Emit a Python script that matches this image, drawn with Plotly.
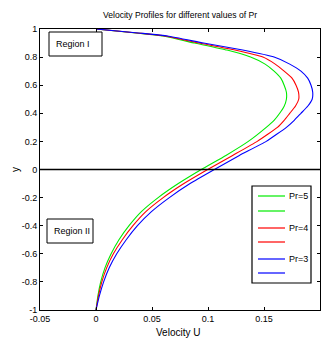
import plotly.graph_objects as go

# ---- data ----
y_vals = [1.0, 0.97, 0.95, 0.9, 0.85, 0.8, 0.75, 0.7, 0.65, 0.6, 0.55, 0.5, 0.45, 0.4, 0.35, 0.3, 0.2, 0.1, 0.0,
          -0.1, -0.2, -0.3, -0.4, -0.5, -0.6, -0.7, -0.8, -0.9, -1.0]
u_pr5 = [0.0, 0.038, 0.060, 0.088, 0.117, 0.138, 0.151, 0.159, 0.165, 0.168, 0.1700, 0.170, 0.168, 0.164, 0.159,
         0.152, 0.136, 0.116, 0.094,
         0.0735, 0.0555, 0.0405, 0.0295, 0.0205, 0.0135, 0.0080, 0.0042, 0.0017, 0.0]
u_pr4 = [0.0, 0.039, 0.062, 0.092, 0.124, 0.149, 0.160, 0.168, 0.175, 0.1786, 0.1808, 0.181, 0.178, 0.173, 0.168,
         0.162, 0.144, 0.122, 0.0997,
         0.0785, 0.0600, 0.0445, 0.0330, 0.0235, 0.0155, 0.0095, 0.0052, 0.0022, 0.0]
u_pr3 = [0.0, 0.040, 0.064, 0.096, 0.131, 0.159, 0.173, 0.183, 0.189, 0.192, 0.1935, 0.1930, 0.189, 0.183, 0.177,
         0.170, 0.152, 0.128, 0.1057,
         0.0840, 0.0655, 0.0495, 0.0370, 0.0270, 0.0185, 0.0118, 0.0068, 0.0030, 0.0]
series_names = ["Pr=5", "Pr=4", "Pr=3"]
series_colors = ["rgb(0,235,0)", "rgb(255,0,0)", "rgb(0,0,255)"]
x_ticks = [-0.05, 0, 0.05, 0.1, 0.15, 0.2]
x_tick_labels = ["-0.05", "0", "0.05", "0.1", "0.15", "0.2"]
y_ticks = [-1, -0.8, -0.6, -0.4, -0.2, 0, 0.2, 0.4, 0.6, 0.8, 1]
y_tick_labels = ["-1", "-0.8", "-0.6", "-0.4", "-0.2", "0", "0.2", "0.4", "0.6", "0.8", "1"]

W, H = 322, 343
L, R, T, B = 40, 2, 29, 33
PW, PH = W - L - R, H - T - B

def px(xp):
    return (xp - L) / PW

def py(yp):
    return (H - B - yp) / PH

FONT = "Liberation Sans, Arial, sans-serif"

fig = go.Figure()
for u, name, col in zip([u_pr5, u_pr4, u_pr3], series_names, series_colors):
    fig.add_trace(go.Scatter(x=u, y=y_vals, mode="lines", name=name,
                             line=dict(color=col, width=1.1, shape="spline", smoothing=0.4),
                             showlegend=False))

shapes = []
annotations = []
# zero line across the axes
shapes.append(dict(type="line", xref="paper", yref="y", x0=0, x1=1, y0=0, y1=0,
                   line=dict(color="black", width=1.3)))
# Region boxes
shapes.append(dict(type="rect", xref="paper", yref="paper",
                   x0=px(49), x1=px(102), y0=py(56), y1=py(32),
                   line=dict(color="black", width=1), fillcolor="white"))
annotations.append(dict(xref="paper", yref="paper", x=px(54), y=py(44), text="Region I",
                        showarrow=False, xanchor="left", yanchor="middle",
                        font=dict(family=FONT, size=9, color="black")))
shapes.append(dict(type="rect", xref="paper", yref="paper",
                   x0=px(47), x1=px(93), y0=py(243), y1=py(219),
                   line=dict(color="black", width=1), fillcolor="white"))
annotations.append(dict(xref="paper", yref="paper", x=px(52), y=py(231), text="Region II",
                        showarrow=False, xanchor="left", yanchor="middle",
                        font=dict(family=FONT, size=9, color="black")))
# Legend box (MATLAB style, with blank duplicate entries)
shapes.append(dict(type="rect", xref="paper", yref="paper",
                   x0=px(252), x1=px(311), y0=py(283), y1=py(186),
                   line=dict(color="black", width=1.2), fillcolor="white"))
leg_y = [196, 211, 228, 242, 259, 273]
for i, (name, col) in enumerate(zip(series_names, series_colors)):
    for j in range(2):
        yy = leg_y[2 * i + j]
        shapes.append(dict(type="line", xref="paper", yref="paper",
                           x0=px(258), x1=px(285), y0=py(yy), y1=py(yy),
                           line=dict(color=col, width=1.2)))
        if j == 0:
            annotations.append(dict(xref="paper", yref="paper", x=px(287), y=py(yy), text=name,
                                    showarrow=False, xanchor="left", yanchor="middle",
                                    font=dict(family=FONT, size=9, color="black")))
# Axis titles
annotations.append(dict(xref="paper", yref="paper", x=px(178), y=py(332), text="Velocity U",
                        showarrow=False, xanchor="center", yanchor="middle",
                        font=dict(family=FONT, size=10, color="black")))
annotations.append(dict(xref="paper", yref="paper", x=px(15), y=py(170), text="y",
                        showarrow=False, xanchor="center", yanchor="middle", textangle=-90,
                        font=dict(family=FONT, size=10, color="black")))

fig.update_layout(
    width=W, height=H,
    margin=dict(l=L, r=R, t=T, b=B, autoexpand=False),
    paper_bgcolor="white", plot_bgcolor="white",
    showlegend=False,
    font=dict(family=FONT, size=10, color="black"),
    title=dict(text="Velocity Profiles for different values of Pr", x=(L + PW / 2) / W,
               xanchor="center", y=1 - 15 / H, yanchor="middle", automargin=False,
               font=dict(family=FONT, size=8.6, color="black")),
    shapes=shapes, annotations=annotations,
)
fig.update_xaxes(range=[-0.05, 0.2], tickvals=x_ticks, ticktext=x_tick_labels, automargin=False,
                 showgrid=False, zeroline=False, showline=True, linecolor="black", linewidth=1,
                 mirror="ticks", ticks="inside", ticklen=3, tickcolor="black",
                 tickfont=dict(family=FONT, size=9))
fig.update_yaxes(range=[-1, 1], tickvals=y_ticks, ticktext=y_tick_labels, automargin=False,
                 showgrid=False, zeroline=False, showline=True, linecolor="black", linewidth=1,
                 mirror="ticks", ticks="inside", ticklen=3, tickcolor="black",
                 tickfont=dict(family=FONT, size=9))

fig.write_html("out.html", config={"displayModeBar": False},
               post_script="document.body.style.margin='0';document.body.style.overflow='hidden';")
